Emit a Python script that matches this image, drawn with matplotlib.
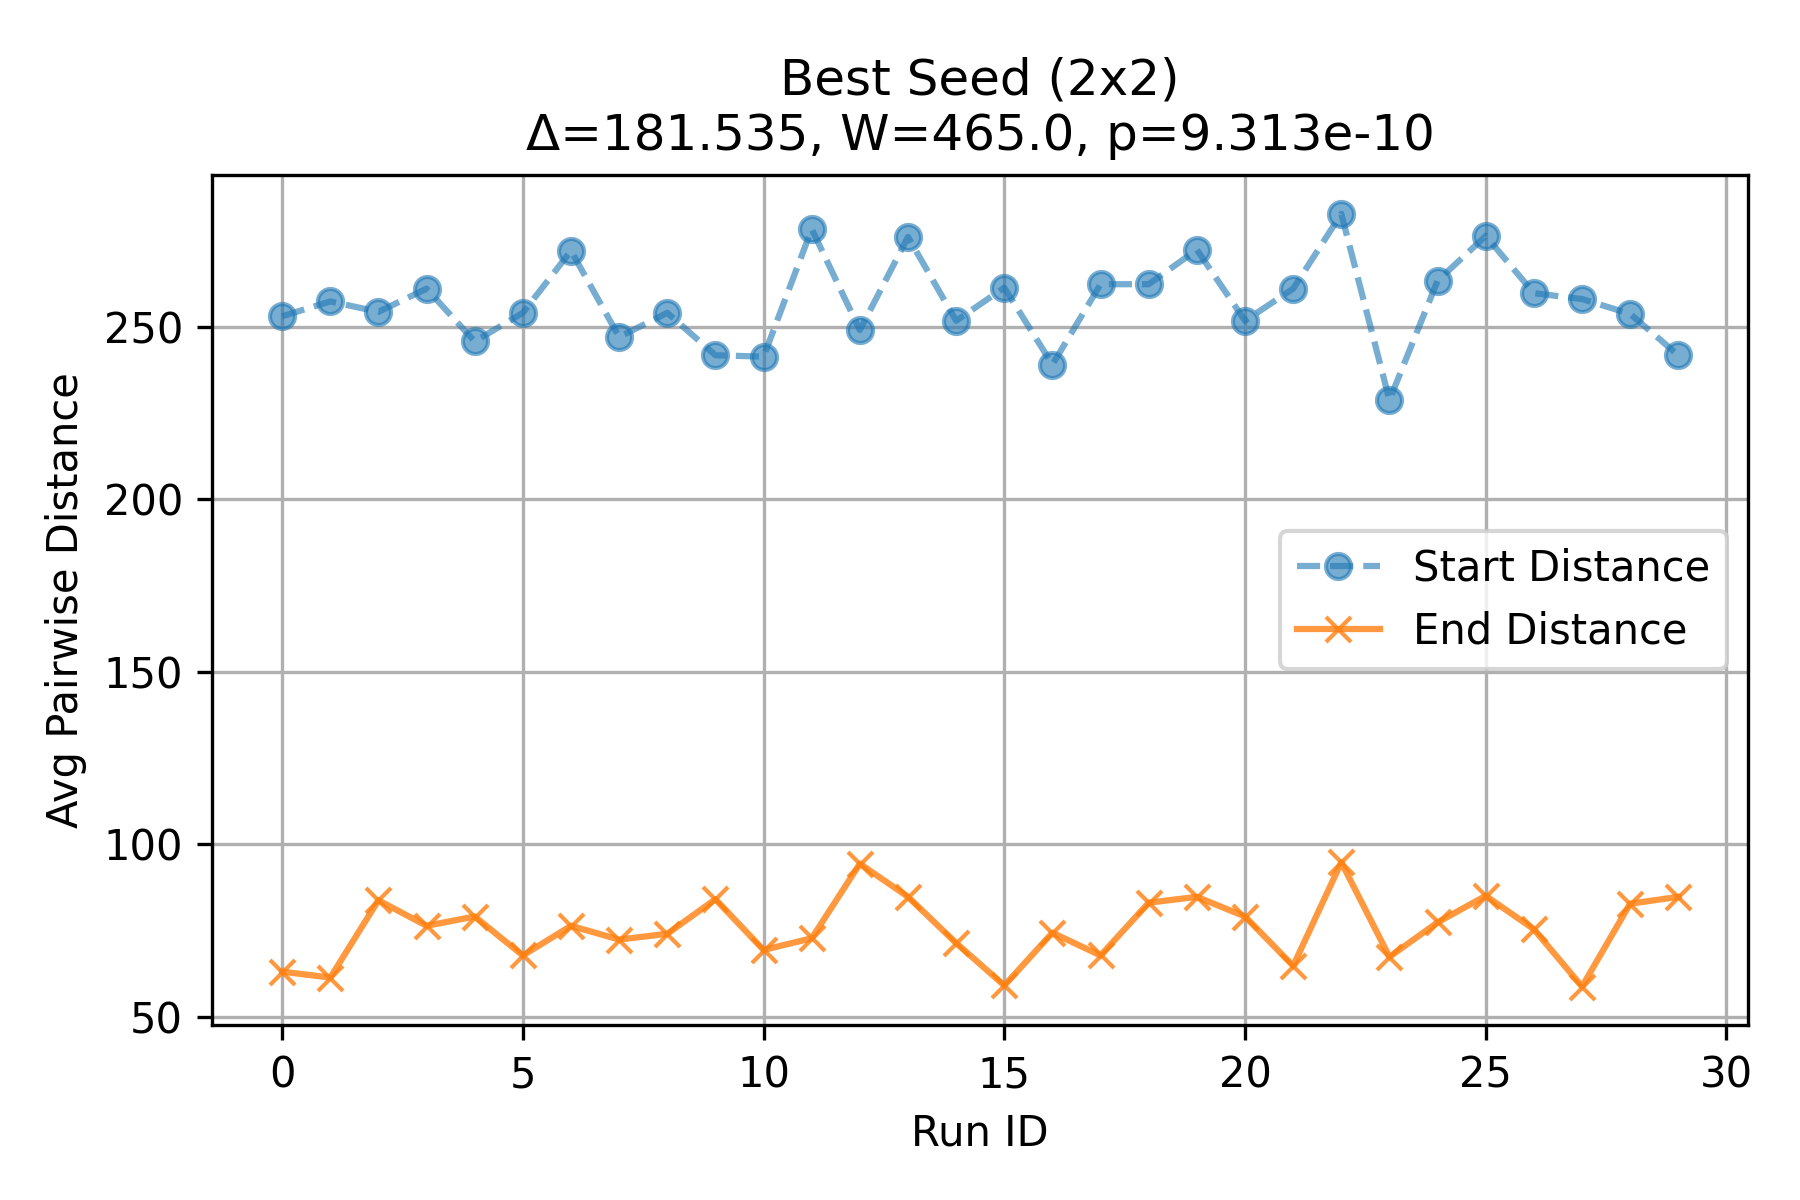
import numpy as np
import matplotlib.pyplot as plt

run_ids = np.arange(30)
start_dist = [253.0, 257.3, 254.3, 261.0, 245.7, 254.0, 272.0, 247.0, 254.0, 241.7,
              241.3, 278.3, 249.0, 276.0, 251.7, 261.3, 239.0, 262.3, 262.3, 272.3,
              251.7, 261.0, 282.7, 228.7, 263.3, 276.3, 259.7, 258.0, 253.7, 241.7]
end_dist = [63.0, 61.3, 83.7, 76.3, 79.0, 67.7, 76.3, 72.3, 74.0, 84.0,
            69.3, 72.7, 94.3, 84.7, 71.3, 59.0, 74.3, 67.7, 83.0, 84.7,
            79.0, 64.7, 94.7, 67.3, 77.3, 85.0, 75.3, 58.7, 82.7, 84.7]

plt.figure(figsize=(6, 4), dpi=300)
plt.plot(run_ids, start_dist, 'o--', alpha=0.6, label='Start Distance')
plt.plot(run_ids, end_dist, 'x-', alpha=0.8, label='End Distance')
plt.xlabel('Run ID')
plt.ylabel('Avg Pairwise Distance')
plt.title('Best Seed (2x2)\n\u0394=181.535, W=465.0, p=9.313e-10')
plt.legend()
plt.grid(True)
plt.tight_layout()
plt.subplots_adjust(top=0.854)
plt.savefig('out.png', dpi=300)
